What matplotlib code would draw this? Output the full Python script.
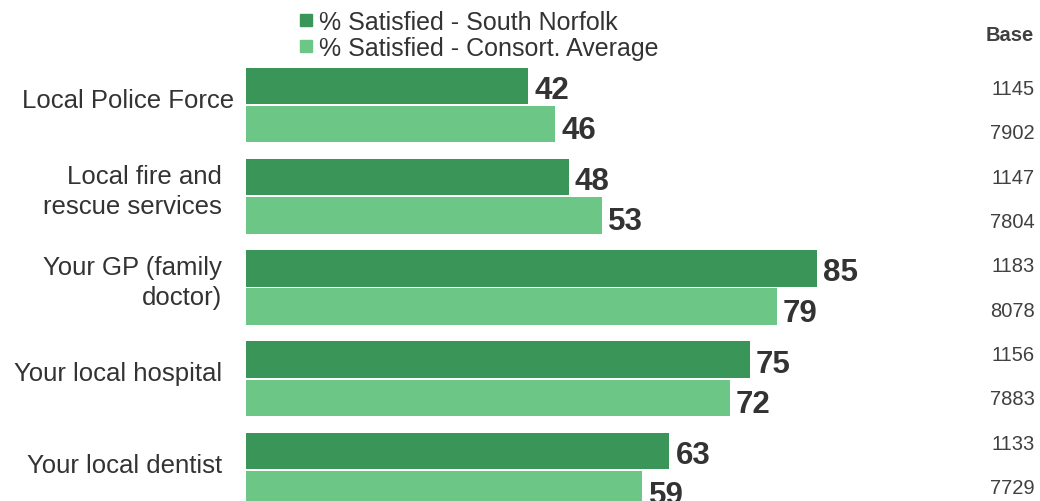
import numpy as np
import matplotlib
matplotlib.use('Agg')
import matplotlib.pyplot as plt
from matplotlib.lines import Line2D

# data
categories = ['Local Police Force', 'Local fire and\nrescue services', 'Your GP (family\ndoctor)',
              'Your local hospital', 'Your local dentist']
south_norfolk = [42, 48, 85, 75, 63]
consort_avg = [46, 53, 79, 72, 59]
base_sn = [1145, 1147, 1183, 1156, 1133]
base_ca = [7902, 7804, 8078, 7883, 7729]
series_names = ['% Satisfied - South Norfolk', '% Satisfied - Consort. Average']

dark = '#3A9658'
light = '#6CC686'
txt = '#333333'

plt.rcParams['font.family'] = ['Liberation Sans', 'DejaVu Sans']

fig = plt.figure(figsize=(10.4, 5.02), dpi=100)
ax = fig.add_axes([246 / 1040, 0, 794 / 1040, 1])
ax.set_xlim(0, 794 / 6.72)
ax.set_ylim(4.34, -1.162)
ax.axis('off')

y = np.arange(len(categories))
off = 0.21
h = 0.40
ax.barh(y - off, south_norfolk, height=h, color=dark)
ax.barh(y + off, consort_avg, height=h, color=light)

# base column rows run evenly down the right side
base_y = np.linspace(-0.18, 4.19, 2 * len(categories))
# the one-line first label sits a bit further right in the original
label_x = [-1.8, -3.6, -3.6, -3.6, -3.6]

for i in range(len(categories)):
    ax.text(south_norfolk[i] + 0.9, y[i] - off + 0.045, str(south_norfolk[i]), ha='left', va='center',
            fontsize=22.5, fontweight='bold', color=txt)
    ax.text(consort_avg[i] + 0.9, y[i] + off + 0.065, str(consort_avg[i]), ha='left', va='center',
            fontsize=22.5, fontweight='bold', color=txt)
    ax.text(label_x[i], y[i] - 0.06, categories[i], ha='right', va='center', multialignment='right',
            fontsize=18.5, color=txt, linespacing=1.3, clip_on=False)
    ax.text(117.4, base_y[2 * i], str(base_sn[i]), ha='right', va='center', fontsize=14.5, color='#404040')
    ax.text(117.4, base_y[2 * i + 1], str(base_ca[i]), ha='right', va='center', fontsize=14.5, color='#404040')

ax.text(117.2, -0.77, 'Base', ha='right', va='center', fontsize=14.5, fontweight='bold', color='#404040')

handles = [Line2D([], [], marker='s', linestyle='none', color=c, markersize=8.5) for c in (dark, light)]
leg = fig.legend(handles, series_names, loc='upper left', bbox_to_anchor=(293 / 1040, 1 - 6 / 502),
                 frameon=False, fontsize=18, handlelength=0.6, handletextpad=0.25,
                 labelspacing=0.08, borderpad=0.2, borderaxespad=0)
for t in leg.get_texts():
    t.set_color(txt)

plt.savefig('out.png', dpi=100)
